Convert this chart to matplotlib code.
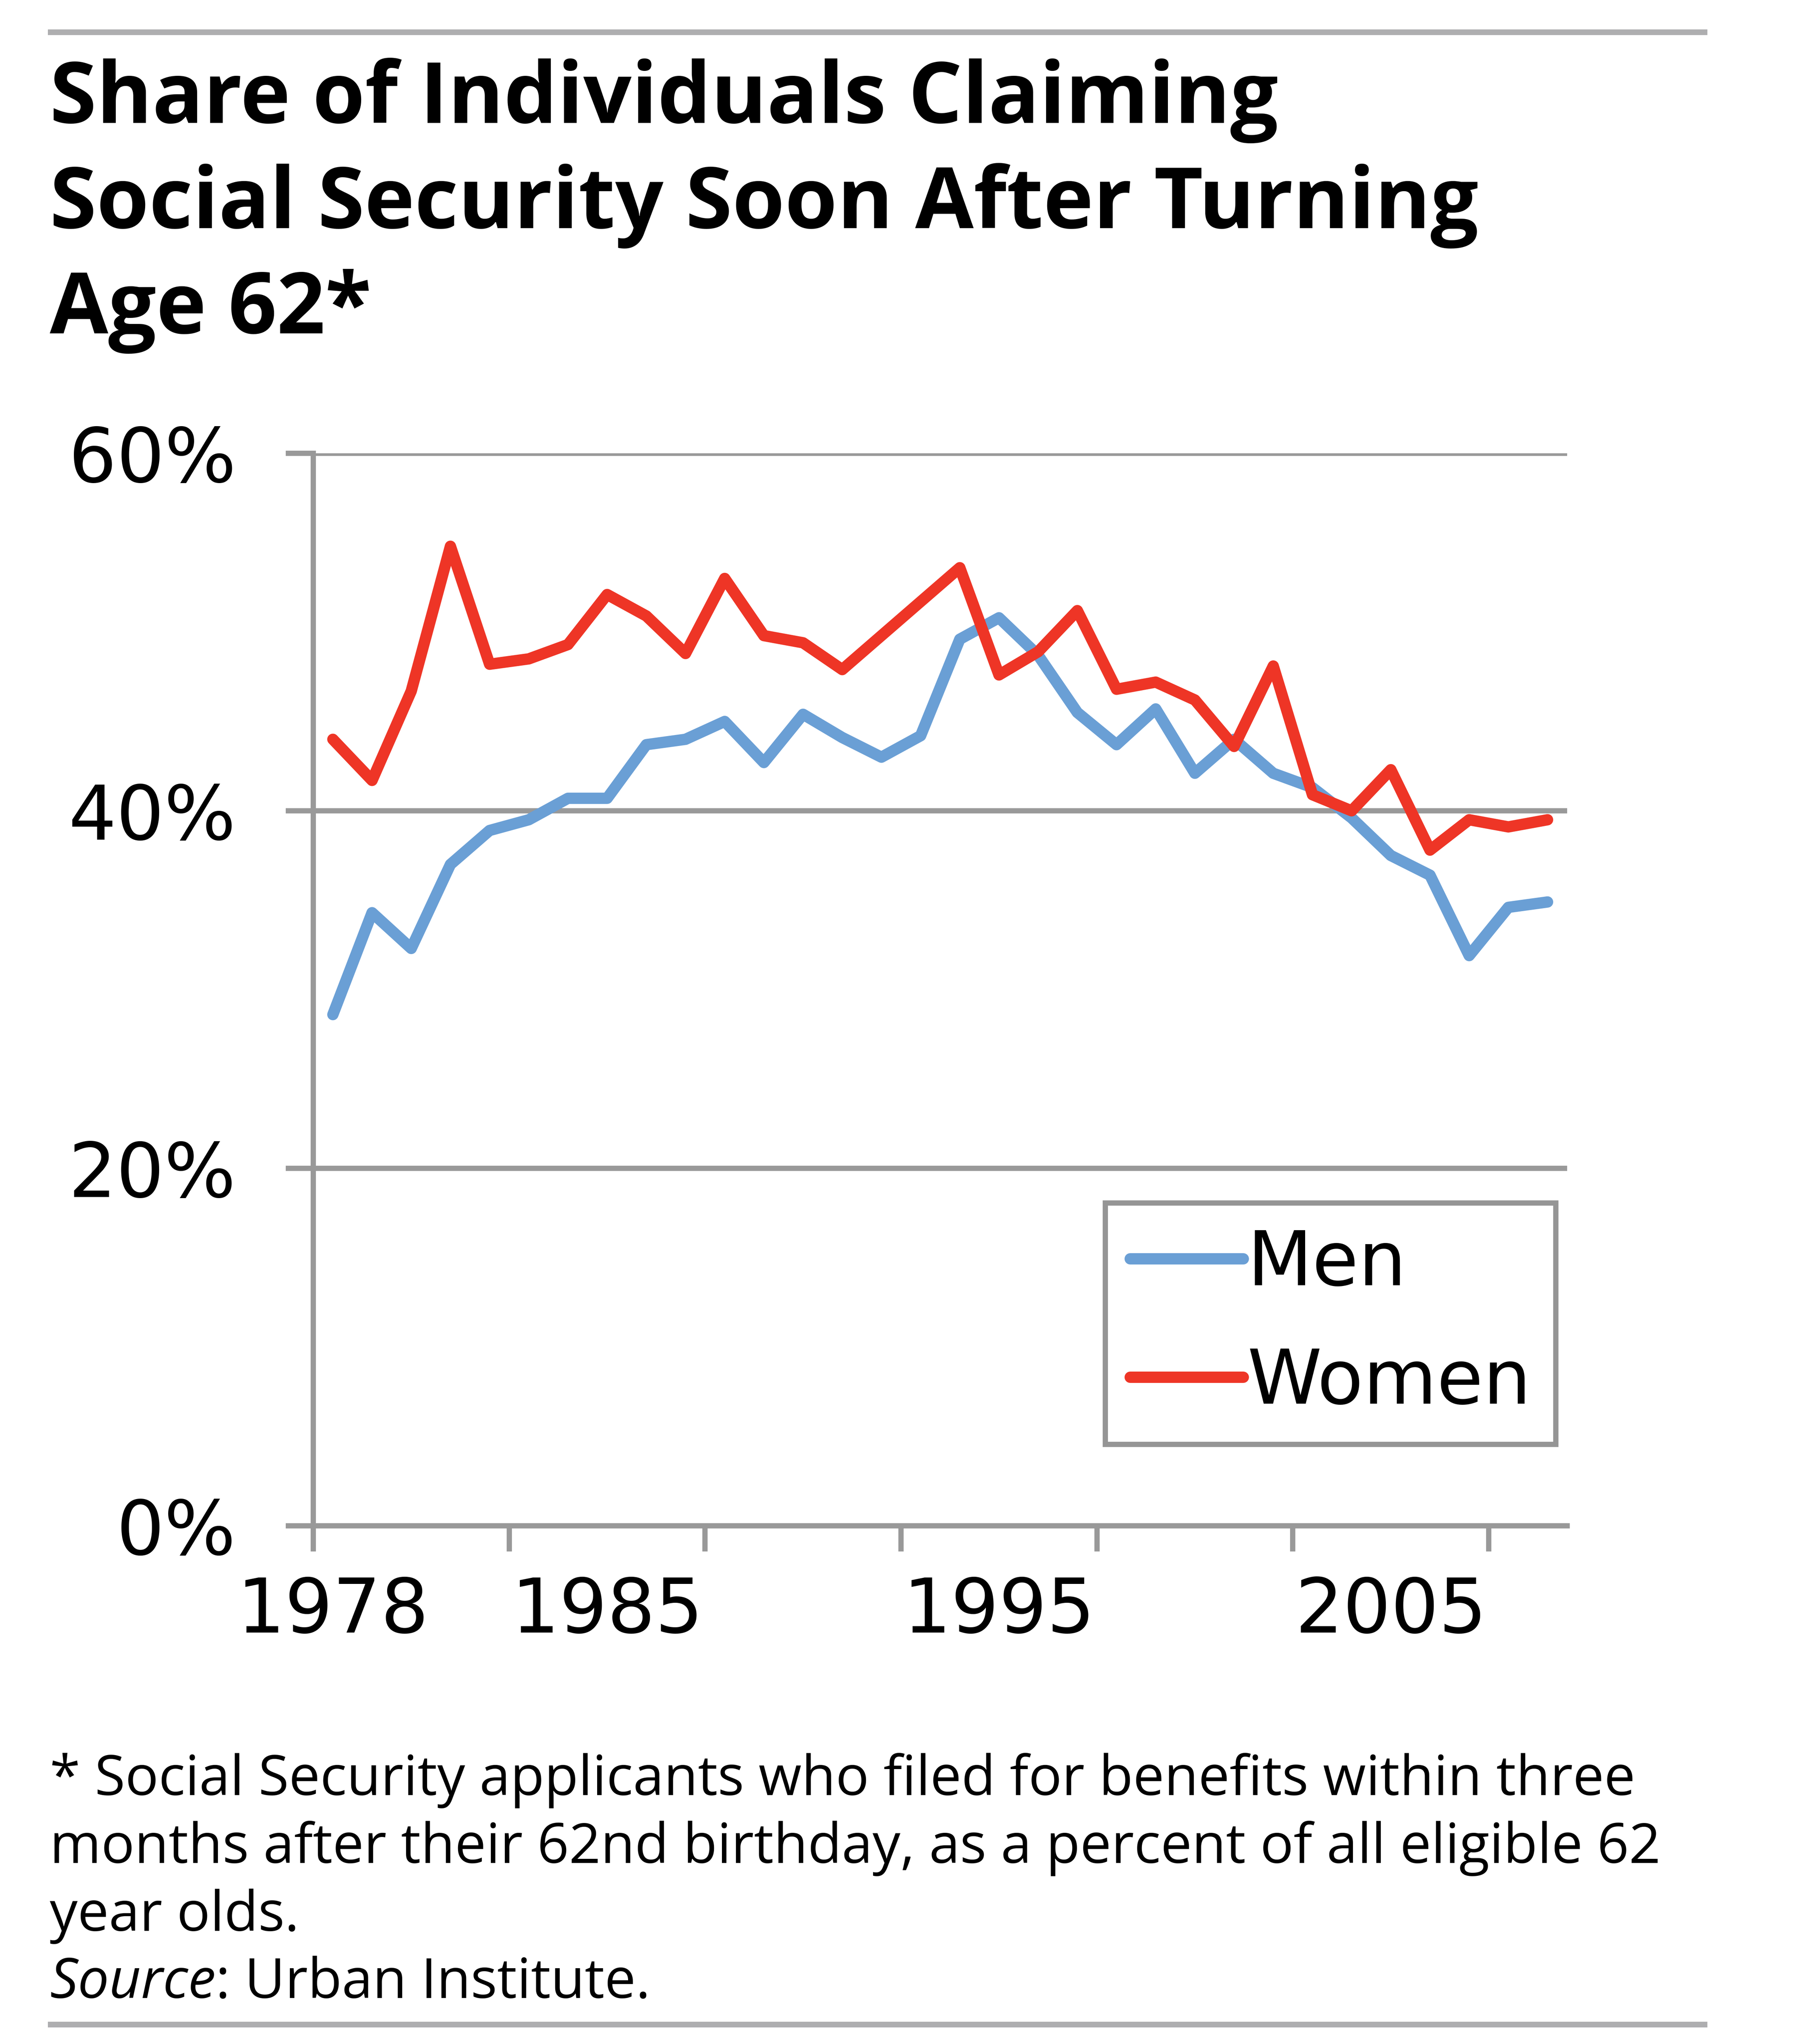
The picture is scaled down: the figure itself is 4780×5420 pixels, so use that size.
import numpy as np
import matplotlib
matplotlib.use('Agg')
import matplotlib.pyplot as plt
from matplotlib.lines import Line2D

# values (percent of eligible 62 year olds)
years = list(range(1978, 2010))
men = [28.6, 34.3, 32.3, 37.0, 38.9, 39.5, 40.7, 40.7, 43.7, 44.0,
       45.0, 42.7, 45.4, 44.1, 43.0, 44.2, 49.6, 50.8, 48.7, 45.5,
       43.7, 45.7, 42.1, 44.0, 42.1, 41.3, 39.6, 37.5, 36.4, 31.9,
       34.6, 34.9]
women = [44.0, 41.7, 46.7, 54.8, 48.2, 48.5, 49.3, 52.1, 50.9, 48.8,
         53.0, 49.8, 49.4, 47.9, 49.8, 51.7, 53.6, 47.6, 48.9, 51.2,
         46.8, 47.2, 46.2, 43.6, 48.1, 40.9, 40.0, 42.3, 37.8, 39.5,
         39.1, 39.5]
year_labels = ['1978', '1985', '1995', '2005']
y_ticks = [0, 20, 40, 60]

title_lines = ['Share of Individuals Claiming',
               'Social Security Soon After Turning',
               'Age 62*']
note_lines = ['* Social Security applicants who filed for benefits within three',
              'months after their 62nd birthday, as a percent of all eligible 62',
              'year olds.']

W, H = 4780, 5420
GRAY = '#999999'
BLUE = '#6A9FD5'
RED = '#EE3526'

plt.rcParams['font.family'] = ['DejaVu Sans']

fig = plt.figure(figsize=(W / 100, H / 100), dpi=100)
fig.patch.set_facecolor('white')

# axes box in pixels: x 831..4157, y 1202..4046 (from top)
ax = fig.add_axes([831 / W, 1 - 4046 / H, (4157 - 831) / W, (4046 - 1202) / H])

x = np.arange(len(years)) + 0.5
ax.plot(x, men, color=BLUE, lw=21.6, solid_capstyle='round', solid_joinstyle='round',
        label='Men', zorder=3)
ax.plot(x, women, color=RED, lw=21.6, solid_capstyle='round', solid_joinstyle='round',
        label='Women', zorder=4)

ax.set_xlim(0, len(years))
ax.set_ylim(0, 60)

for s in ['top', 'right']:
    ax.spines[s].set_visible(False)
for s in ['left', 'bottom']:
    ax.spines[s].set_color(GRAY)
    ax.spines[s].set_linewidth(10)
    ax.spines[s].set_zorder(2)

ax.set_yticks(y_ticks)
ax.set_yticklabels([f'{v}%' for v in y_ticks])
ax.yaxis.grid(True, color=GRAY, lw=10, zorder=1)
ax.set_axisbelow(True)
ax.tick_params(axis='y', length=52.6, width=10, color=GRAY, pad=95,
               labelsize=144, labelcolor='black')

ax.set_xticks(np.arange(0, len(years), 5))
ax.set_xticklabels([])
ax.tick_params(axis='x', which='major', length=49, width=10, color=GRAY)
lab_pos = [years.index(int(l)) + 0.5 for l in year_labels]
ax.set_xticks(lab_pos, minor=True)
ax.set_xticklabels(year_labels, minor=True)
ax.tick_params(axis='x', which='minor', length=0, pad=94, labelsize=144,
               labelcolor='black')

leg = ax.legend(loc='upper left', bbox_to_anchor=(2932 / W, 1 - 3190 / H),
                bbox_transform=fig.transFigure, fontsize=144, frameon=True,
                fancybox=False, borderpad=0.33, handlelength=1.5,
                handletextpad=0.05, labelspacing=0.6, borderaxespad=0)
leg.get_frame().set_edgecolor('#959595')
leg.get_frame().set_linewidth(10)
leg.get_frame().set_facecolor('white')
leg.get_frame().set_alpha(1)

# title
for i, line in enumerate(title_lines):
    fig.text(132 / W, 1 - (326 + 279 * i) / H, line, fontsize=162,
             fontweight='bold', family='Open Sans', va='baseline', ha='left')

# footnote
for i, line in enumerate(note_lines):
    fig.text(132 / W, 1 - (4760 + 180 * i) / H, line, fontsize=106,
             family='Open Sans', va='baseline', ha='left')

src = fig.text(132 / W, 1 - 5298 / H, 'Source', fontsize=106, family='Open Sans',
               style='italic', va='baseline', ha='left')
r = fig.canvas.get_renderer()
bb = src.get_window_extent(renderer=r)
fig.text(bb.x1 / W, 1 - 5298 / H, ': Urban Institute.', fontsize=106,
         family='Open Sans', va='baseline', ha='left')

# grey rules top and bottom
for yy in [85, 5368]:
    fig.add_artist(Line2D([134 / W, 4521 / W], [1 - yy / H, 1 - yy / H],
                          transform=fig.transFigure, color='#AEAEB0', lw=10.8))

fig.savefig('out.png', dpi=100, facecolor='white')
